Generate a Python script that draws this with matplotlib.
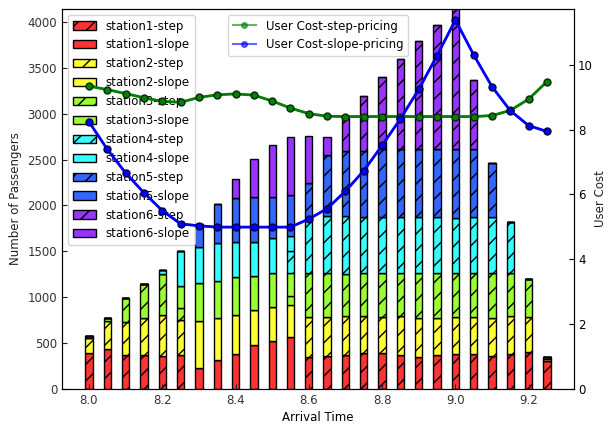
import numpy as np
import matplotlib
matplotlib.use("Agg")
import matplotlib.pyplot as plt

# ----------------------------
# Data
# ----------------------------
times = [8.0, 8.05, 8.1, 8.15, 8.2, 8.25, 8.3, 8.35, 8.4, 8.45, 8.5, 8.55, 8.6,
         8.65, 8.7, 8.75, 8.8, 8.85, 8.9, 8.95, 9.0, 9.05, 9.1, 9.15, 9.2, 9.25]

# passengers per station, split by pricing scheme
station1_step = [392, 435, 365, 368, 353, 365, 0, 0, 0, 0, 0, 0, 345,
                 358, 365, 388, 390, 367, 350, 367, 383, 376, 355, 375, 400, 305]
station1_slope = [0, 0, 0, 0, 0, 0, 225, 318, 381, 482, 526, 565, 0,
                  0, 0, 0, 0, 0, 0, 0, 0, 0, 0, 0, 0, 0]
station2_step = [160, 305, 365, 407, 447, 390, 0, 0, 0, 0, 0, 0, 443,
                 422, 430, 401, 396, 422, 427, 401, 397, 404, 413, 418, 386, 23]
station2_slope = [0, 0, 0, 0, 0, 0, 515, 453, 422, 378, 369, 345, 0,
                  0, 0, 0, 0, 0, 0, 0, 0, 0, 0, 0, 0, 0]
station3_step = [20, 35, 260, 370, 453, 122, 0, 0, 0, 0, 0, 105, 473,
                 485, 460, 471, 474, 469, 481, 494, 482, 482, 494, 472, 417, 17]
station3_slope = [0, 0, 0, 0, 0, 240, 412, 400, 418, 372, 367, 247, 0,
                  0, 0, 0, 0, 0, 0, 0, 0, 0, 0, 0, 0, 0]
station4_step = [0, 0, 0, 0, 0, 0, 0, 0, 0, 0, 0, 236, 594,
                 625, 631, 615, 615, 612, 612, 608, 606, 608, 611, 552, 0, 0]
station4_slope = [0, 0, 0, 0, 45, 385, 392, 417, 385, 374, 380, 170, 0,
                  0, 0, 0, 0, 0, 0, 0, 0, 0, 0, 0, 0, 0]
station5_step = [0, 0, 0, 0, 0, 0, 0, 0, 0, 0, 0, 0, 394,
                 663, 704, 720, 738, 747, 747, 745, 745, 743, 593, 0, 0, 0]
station5_slope = [0, 0, 0, 0, 0, 0, 250, 432, 472, 481, 448, 446, 0,
                  0, 0, 0, 0, 0, 0, 0, 0, 0, 0, 0, 0, 0]
station6_step = [0, 0, 0, 0, 0, 0, 0, 0, 0, 0, 0, 0, 0,
                 0, 378, 599, 785, 983, 1174, 1354, 1587, 749, 0, 0, 0, 0]
station6_slope = [0, 0, 0, 0, 0, 0, 0, 0, 207, 420, 568, 628, 508,
                  193, 0, 0, 0, 0, 0, 0, 0, 0, 0, 0, 0, 0]

cost_step = [9.34, 9.23, 9.11, 8.98, 8.87, 8.84, 8.99, 9.07, 9.10, 9.06, 8.88,
             8.66, 8.49, 8.41, 8.40, 8.40, 8.40, 8.40, 8.40, 8.40, 8.40, 8.40,
             8.43, 8.59, 8.94, 9.48]
cost_slope = [8.24, 7.39, 6.66, 6.05, 5.50, 5.09, 5.03, 4.99, 4.99, 4.99, 4.99,
              4.99, 5.24, 5.56, 6.10, 6.73, 7.51, 8.33, 9.24, 10.28, 11.38,
              10.30, 9.32, 8.58, 8.12, 7.94]

station_colors = ["#ff3333", "#ffff33", "#99ff33", "#33ffff", "#3366ff", "#9933ff"]

series = [
    ("station1-step", station1_step), ("station1-slope", station1_slope),
    ("station2-step", station2_step), ("station2-slope", station2_slope),
    ("station3-step", station3_step), ("station3-slope", station3_slope),
    ("station4-step", station4_step), ("station4-slope", station4_slope),
    ("station5-step", station5_step), ("station5-slope", station5_slope),
    ("station6-step", station6_step), ("station6-slope", station6_slope),
]

plt.rcParams["font.size"] = 8.5
plt.rcParams["xtick.direction"] = "in"
plt.rcParams["ytick.direction"] = "in"

fig = plt.figure(figsize=(6.08, 4.25), dpi=100)
ax = fig.add_axes([0.102, 0.085, 0.842, 0.894])

# ----------------------------
# Stacked passenger bars
# ----------------------------
bottom = np.zeros(len(times))
for i, (name, vals) in enumerate(series):
    vals = np.array(vals, dtype=float)
    ax.bar(times, vals, width=0.02, bottom=bottom,
           color=station_colors[i // 2], edgecolor="black", linewidth=1,
           hatch="//" if name.endswith("step") else None, label=name)
    bottom += vals

ax.set_ylim(0, 4142)
ax.set_xlabel("Arrival Time", labelpad=3)
ax.set_ylabel("Number of Passengers", color="#222222")
ax.tick_params(colors="#222222", labelcolor="#333333")
ax.legend(loc="upper left", fontsize=8.5)

# ----------------------------
# User cost curves
# ----------------------------
ax2 = ax.twinx()
ax2.plot(times, cost_step, "o-", color="green", alpha=0.6, ms=4,
         label="User Cost-step-pricing")
ax2.plot(times, cost_slope, "o-", color="blue", alpha=0.6, ms=4,
         label="User Cost-slope-pricing")
ax2.plot(times, cost_step, "-", color="green", lw=2)
ax2.plot(times, cost_step, "o", color="green", mec="#0a2a0a", ms=5)
ax2.plot(times, cost_slope, "-", color="blue", lw=2)
ax2.plot(times, cost_slope, "o", color="blue", mec="#000050", ms=5)
ax2.set_ylim(0, 11.72)
ax2.set_ylabel("User Cost", labelpad=1, color="#222222")
ax2.tick_params(labelsize=8.5, pad=3)
ax2.legend(loc="upper center", fontsize=8.5)

plt.savefig("out.png", dpi=100)
